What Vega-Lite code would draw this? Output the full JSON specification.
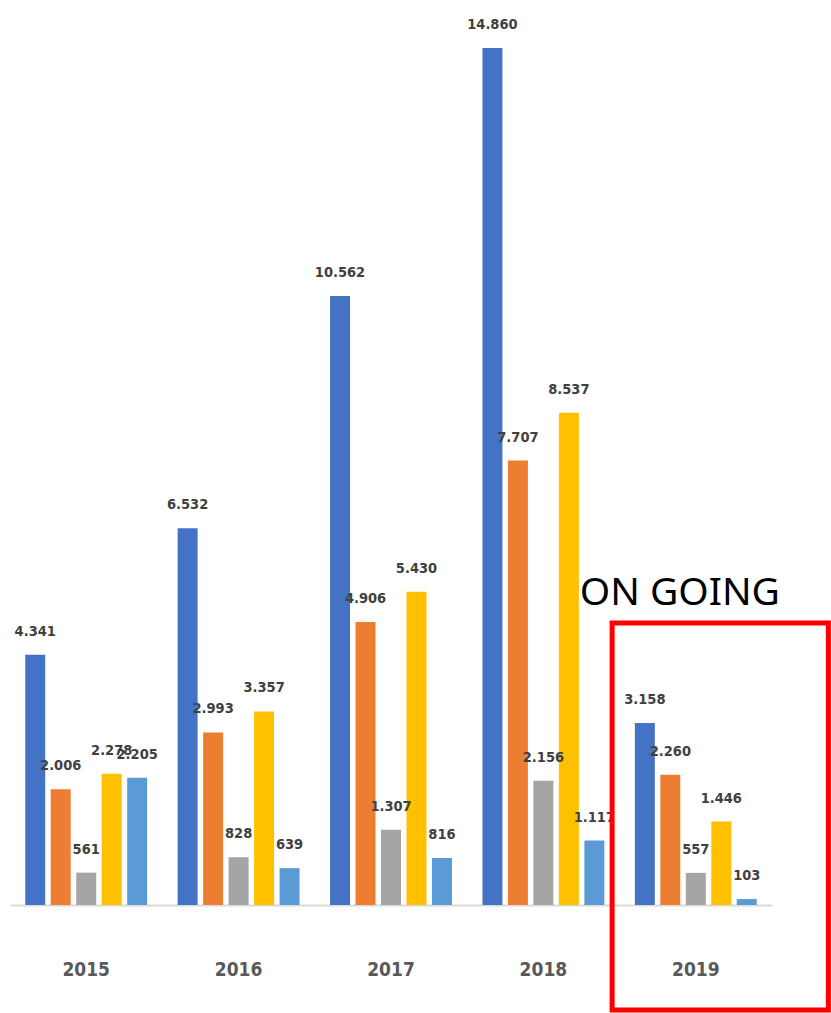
{
  "$schema": "https://vega.github.io/schema/vega-lite/v6.json",
  "autosize": {"type": "none"},
  "width": 762,
  "height": 905,
  "padding": {"left": 10, "top": 0, "right": 59, "bottom": 108},
  "background": "white",
  "config": {
    "view": {"stroke": null},
    "locale": {"number": {"decimal": ",", "thousands": ".", "grouping": [3], "currency": ["", ""]}}
  },
  "datasets": {
    "bars": [
      {"year": "2015", "series": "A", "value": 4341},
      {"year": "2015", "series": "B", "value": 2006},
      {"year": "2015", "series": "C", "value": 561},
      {"year": "2015", "series": "D", "value": 2278},
      {"year": "2015", "series": "E", "value": 2205},
      {"year": "2016", "series": "A", "value": 6532},
      {"year": "2016", "series": "B", "value": 2993},
      {"year": "2016", "series": "C", "value": 828},
      {"year": "2016", "series": "D", "value": 3357},
      {"year": "2016", "series": "E", "value": 639},
      {"year": "2017", "series": "A", "value": 10562},
      {"year": "2017", "series": "B", "value": 4906},
      {"year": "2017", "series": "C", "value": 1307},
      {"year": "2017", "series": "D", "value": 5430},
      {"year": "2017", "series": "E", "value": 816},
      {"year": "2018", "series": "A", "value": 14860},
      {"year": "2018", "series": "B", "value": 7707},
      {"year": "2018", "series": "C", "value": 2156},
      {"year": "2018", "series": "D", "value": 8537},
      {"year": "2018", "series": "E", "value": 1117},
      {"year": "2019", "series": "A", "value": 3158},
      {"year": "2019", "series": "B", "value": 2260},
      {"year": "2019", "series": "C", "value": 557},
      {"year": "2019", "series": "D", "value": 1446},
      {"year": "2019", "series": "E", "value": 103}
    ],
    "box": [{"pos": 3.951, "pos2": 5.37, "top": 4890, "bottom": -1821}],
    "note": [{"pos": 3.738, "y": 5202, "label": "ON GOING"}]
  },
  "layer": [
    {
      "data": {"name": "bars"},
      "layer": [
        {
          "mark": {"type": "bar"},
          "encoding": {
            "x": {"field": "year", "type": "nominal", "scale": {"paddingInner": 0, "paddingOuter": 0},
              "axis": {"title": null, "ticks": false, "domainColor": "#d9d9d9", "domainWidth": 2, "labelAngle": 0,
                "labelFont": "DejaVu Sans Condensed, sans-serif", "labelFontWeight": "bold",
                "labelFontSize": 19, "labelColor": "#595959", "labelBaseline": "middle", "labelPadding": 64}},
            "xOffset": {"field": "series", "type": "nominal", "scale": {"paddingInner": 0.216, "paddingOuter": 0.598}},
            "y": {"field": "value", "type": "quantitative", "scale": {"domain": [0, 15693], "nice": false}, "axis": null},
            "color": {"field": "series", "type": "nominal", "legend": null,
              "scale": {"domain": ["A", "B", "C", "D", "E"], "range": ["#4472C4", "#ED7D31", "#A5A5A5", "#FFC000", "#5B9BD5"]}}
          }
        },
        {
          "mark": {"type": "text", "baseline": "alphabetic", "dy": -19, "font": "DejaVu Sans Condensed, sans-serif",
            "fontWeight": "bold", "fontSize": 14.5, "color": "#404040"},
          "encoding": {
            "x": {"field": "year", "type": "nominal"},
            "xOffset": {"field": "series", "type": "nominal"},
            "y": {"field": "value", "type": "quantitative"},
            "text": {"field": "value", "type": "quantitative", "format": ",d"}
          }
        }
      ]
    },
    {
      "data": {"name": "box"},
      "mark": {"type": "rect", "fill": null, "stroke": "#FF0000", "strokeWidth": 5},
      "encoding": {
        "x": {"field": "pos", "type": "quantitative", "scale": {"domain": [0, 5], "nice": false, "zero": false}, "axis": null},
        "x2": {"field": "pos2"},
        "y": {"field": "top", "type": "quantitative"},
        "y2": {"field": "bottom"}
      }
    },
    {
      "data": {"name": "note"},
      "mark": {"type": "text", "align": "left", "baseline": "alphabetic", "font": "Noto Sans", "fontSize": 39, "color": "#000000"},
      "encoding": {
        "x": {"field": "pos", "type": "quantitative", "scale": {"domain": [0, 5], "nice": false, "zero": false}, "axis": null},
        "y": {"field": "y", "type": "quantitative"},
        "text": {"field": "label"}
      }
    }
  ],
  "resolve": {"scale": {"x": "independent"}}
}
